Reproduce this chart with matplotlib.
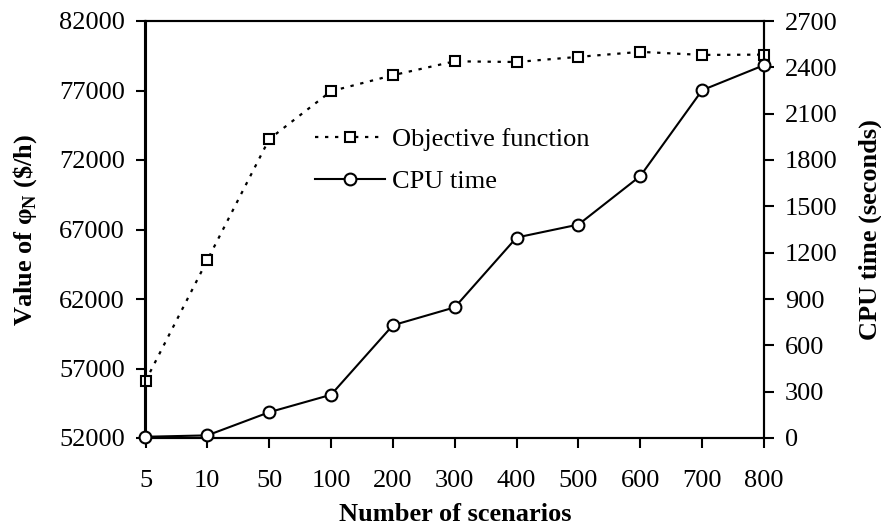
import matplotlib
matplotlib.use("Agg")
import matplotlib.pyplot as plt

scenarios = ["5", "10", "50", "100", "200", "300", "400", "500", "600", "700", "800"]
objective = [56100, 64800, 73500, 76950, 78100, 79100, 79050, 79420, 79780, 79560, 79580]
cpu_time = [8, 17, 167, 280, 730, 846, 1298, 1382, 1696, 2252, 2414]

plt.rcParams['font.family'] = ['Liberation Serif', 'DejaVu Serif']
plt.rcParams['mathtext.fontset'] = 'custom'
plt.rcParams['mathtext.rm'] = 'Liberation Serif'
plt.rcParams['mathtext.bf'] = 'Liberation Serif:bold'

FS = 19

L, R, T, B = 145.5, 764, 21, 438
fig = plt.figure(figsize=(8.81, 5.29), dpi=100)
ax = fig.add_axes([L/881, 1-B/529, (R-L)/881, (B-T)/529])
ax2 = ax.twinx()

x = list(range(len(scenarios)))
l1, = ax.plot(x, objective, linestyle=(0, (1.5, 3)), color='black', lw=1.6,
              marker='s', markersize=7.5, markerfacecolor='white', markeredgecolor='black',
              markeredgewidth=1.5, clip_on=False, zorder=3, label='Objective function')
l2, = ax2.plot(x, cpu_time, linestyle='-', color='black', lw=1.5,
               marker='o', markersize=8.5, markerfacecolor='white', markeredgecolor='black',
               markeredgewidth=1.5, clip_on=False, zorder=3, label='CPU time')

ax.set_xlim(0, len(scenarios) - 1)
ax.set_ylim(52000, 82000)
ax.set_yticks(range(52000, 82001, 5000))
ax2.set_ylim(0, 2700)
ax2.set_yticks(range(0, 2701, 300))
ax.set_xticks(x)
ax.set_xticklabels(scenarios)

for a in (ax, ax2):
    for s in a.spines.values():
        s.set_linewidth(1.5)
ax.tick_params(axis='both', direction='out', length=7, width=1.5, labelsize=FS, pad=8)
ax2.tick_params(axis='y', direction='out', length=7, width=1.5, labelsize=FS, pad=8)
ax.tick_params(axis='x', pad=16)

ax.set_xlabel('Number of scenarios', fontsize=FS, fontweight='bold', labelpad=8)
ax.set_ylabel(r'Value of φ$_{\mathbf{N}}$ (\$/h)', fontsize=FS, fontweight='bold', labelpad=14)
ax2.set_ylabel('CPU time (seconds)', fontsize=FS, fontweight='bold', labelpad=15)

ax2.legend([l1, l2], ['Objective function', 'CPU time'], loc='upper left',
           bbox_to_anchor=((315-L)/(R-L), (B-128)/(B-T)), frameon=False, fontsize=FS,
           handlelength=2.65, handletextpad=0.27, labelspacing=0.7,
           borderpad=0, borderaxespad=0)

fig.savefig('out.png', dpi=100)
